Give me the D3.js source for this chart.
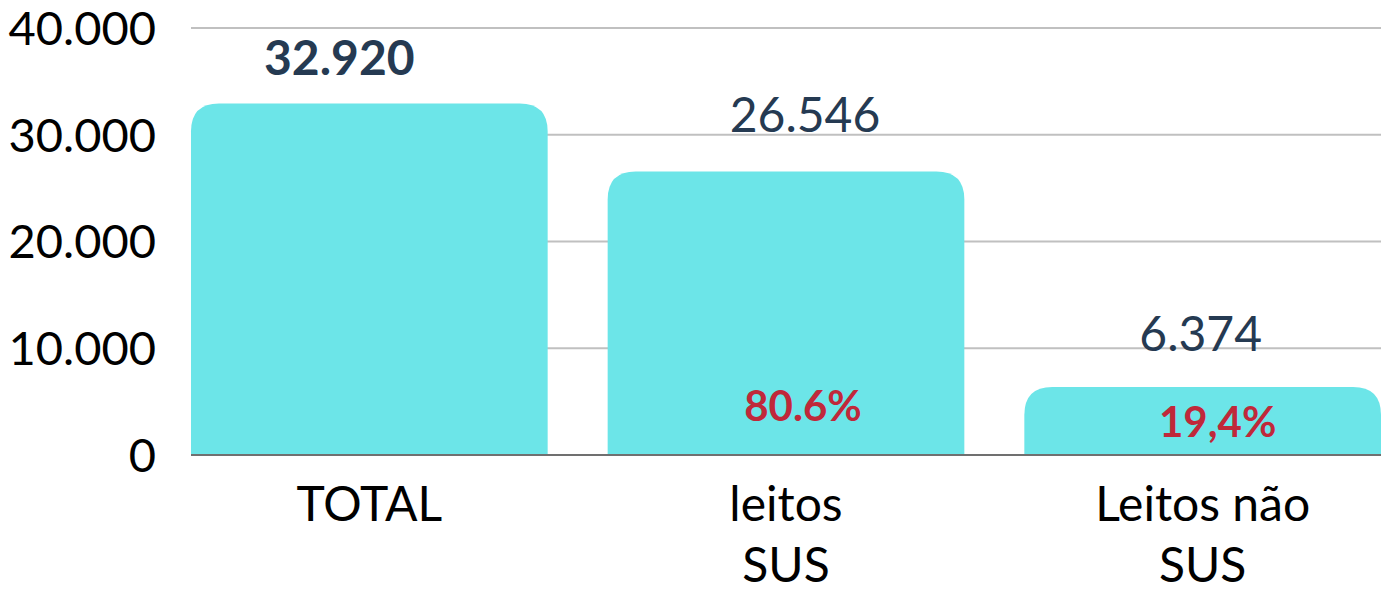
<!DOCTYPE html>
<html>
<head>
<meta charset="utf-8">
<script src="https://cdn.jsdelivr.net/npm/d3@7"></script>
<style>
  body { margin: 0; background: #fff; }
  text { font-family: Lato, "Open Sans", sans-serif; }
</style>
</head>
<body>
<div id="chart"></div>
<script>
// data
var categories = ["TOTAL", "leitos\nSUS", "Leitos não\nSUS"];
var values = [32920, 26546, 6374];
var valueLabels = ["32.920", "26.546", "6.374"];
var pctLabels = [null, "80.6%", "19,4%"];
var yTicks = [0, 10000, 20000, 30000, 40000];
var yTickLabels = ["0", "10.000", "20.000", "30.000", "40.000"];

var width = 1390, height = 592;

var svg = d3.select("#chart").append("svg")
  .attr("width", width)
  .attr("height", height);

var x = d3.scaleBand()
  .domain(categories)
  .range([191, 1381])
  .paddingInner(0.144)
  .paddingOuter(0);

var y = d3.scaleLinear()
  .domain([0, 40000])
  .range([455, 28]);

// gridlines
svg.append("g")
  .selectAll("line")
  .data(yTicks.slice(1))
  .enter()
  .append("line")
  .attr("x1", 191)
  .attr("x2", 1381)
  .attr("y1", d => y(d))
  .attr("y2", d => y(d))
  .style("stroke", "#c0c0c0")
  .style("stroke-width", 2);

// y tick labels
svg.append("g")
  .selectAll("text")
  .data(yTicks)
  .enter()
  .append("text")
  .attr("x", 156)
  .attr("y", d => y(d))
  .attr("dy", "0.36em")
  .attr("text-anchor", "end")
  .style("font-size", "47px")
  .style("fill", "#000")
  .text((d, i) => yTickLabels[i]);

// rounded-top bar path
function barPath(x0, y0, w, h, r) {
  r = Math.min(r, h, w / 2);
  return "M" + x0 + "," + (y0 + h) +
    "V" + (y0 + r) +
    "Q" + x0 + "," + y0 + " " + (x0 + r) + "," + y0 +
    "H" + (x0 + w - r) +
    "Q" + (x0 + w) + "," + y0 + " " + (x0 + w) + "," + (y0 + r) +
    "V" + (y0 + h) + "Z";
}

svg.append("g")
  .selectAll("path")
  .data(values)
  .enter()
  .append("path")
  .attr("d", (d, i) => barPath(x(categories[i]), y(d), x.bandwidth(), y(0) - y(d), 28))
  .style("fill", "#6ce5e8");

// baseline
svg.append("line")
  .attr("x1", 191)
  .attr("x2", 1381)
  .attr("y1", y(0))
  .attr("y2", y(0))
  .style("stroke", "#707070")
  .style("stroke-width", 2);

// value labels (hand-placed offsets like the original)
var valDx = [-30, 19, -2];
var valDy = [-29, -40, -36];
var valBold = [true, false, false];
svg.append("g")
  .selectAll("text")
  .data(values)
  .enter()
  .append("text")
  .attr("x", (d, i) => x(categories[i]) + x.bandwidth() / 2 + valDx[i])
  .attr("y", (d, i) => y(d) + valDy[i])
  .attr("text-anchor", "middle")
  .style("font-size", "48px")
  .style("font-weight", (d, i) => valBold[i] ? "bold" : "normal")
  .style("fill", "#253a52")
  .text((d, i) => valueLabels[i]);

// percentage labels
var pctDx = [0, 17, 15];
var pctY = [0, 421, 437];
svg.append("g")
  .selectAll("text")
  .data(pctLabels)
  .enter()
  .filter(d => d)
  .append("text")
  .attr("x", (d) => {
    var i = pctLabels.indexOf(d);
    return x(categories[i]) + x.bandwidth() / 2 + pctDx[i];
  })
  .attr("y", (d) => pctY[pctLabels.indexOf(d)])
  .attr("text-anchor", "middle")
  .style("font-size", "42px")
  .style("font-weight", "bold")
  .style("fill", "#c0283a")
  .text(d => d);

// category labels
var xl = svg.append("g")
  .selectAll("text")
  .data(categories)
  .enter()
  .append("text")
  .attr("text-anchor", "middle")
  .style("font-size", "48px")
  .style("fill", "#000");

xl.each(function (d) {
  var t = d3.select(this);
  var cx = x(d) + x.bandwidth() / 2;
  d.split("\n").forEach((line, k) => {
    t.append("tspan")
      .attr("x", cx)
      .attr("y", 521 + k * 61)
      .text(line);
  });
});
</script>
</body>
</html>
